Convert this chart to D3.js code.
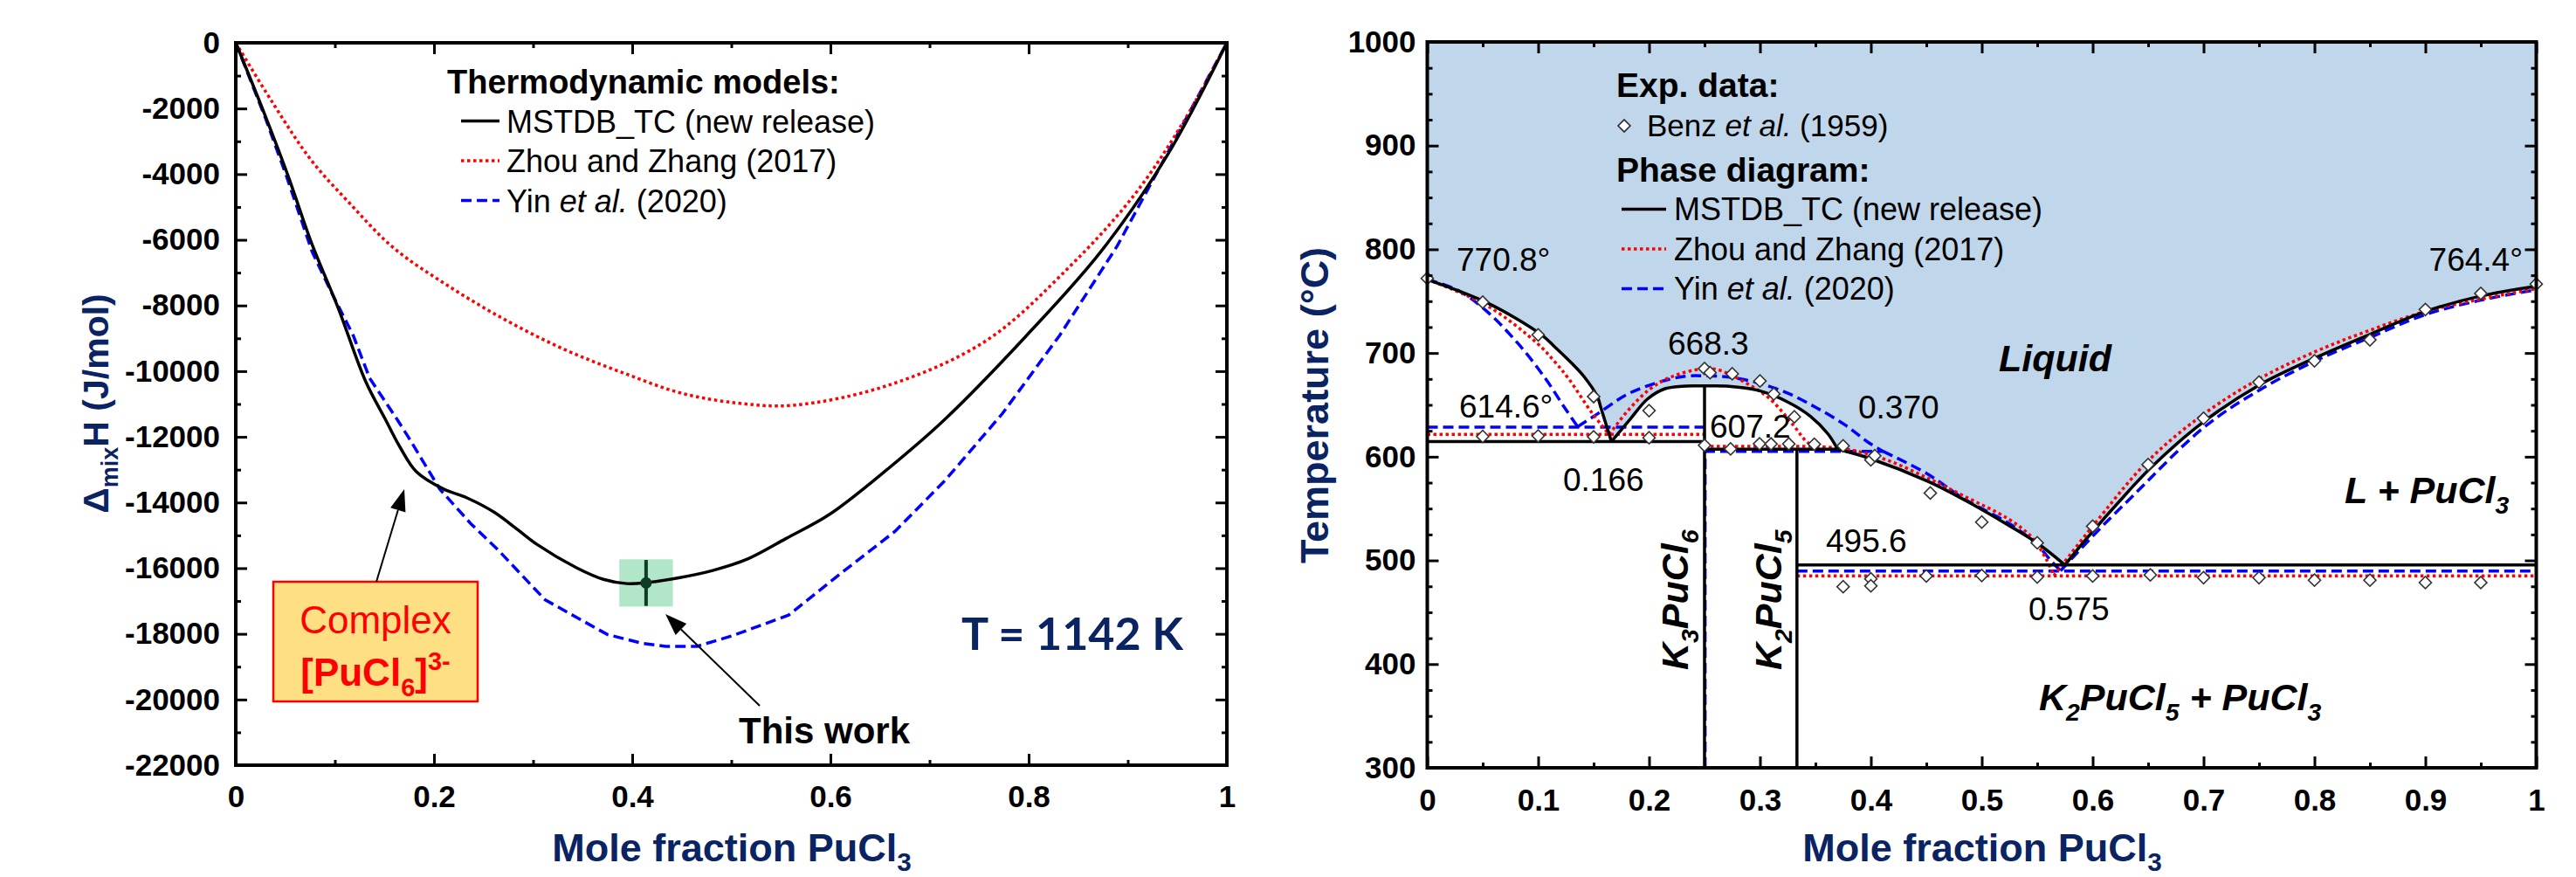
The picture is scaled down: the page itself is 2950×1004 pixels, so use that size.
<!DOCTYPE html>
<html><head><meta charset="utf-8">
<script src="https://cdn.jsdelivr.net/npm/d3@7"></script>
<style>html,body{margin:0;padding:0;background:#fff;} svg{display:block;}</style>
</head><body>
<svg id="chart" width="2950" height="1004"></svg>
<script>
// ---------------- LEFT PANEL DATA (mixing enthalpy, T = 1142 K) ----------------
const leftXTicks = [0, 0.2, 0.4, 0.6, 0.8, 1];
const leftXTickLabels = ["0", "0.2", "0.4", "0.6", "0.8", "1"];
const leftXMinor = [0.1, 0.3, 0.5, 0.7, 0.9];
const leftYTicks = [0, -2000, -4000, -6000, -8000, -10000, -12000, -14000, -16000, -18000, -20000, -22000];
const leftYTickLabels = ["0", "-2000", "-4000", "-6000", "-8000", "-10000", "-12000", "-14000", "-16000", "-18000", "-20000", "-22000"];
const leftYMinor = [-1000, -3000, -5000, -7000, -9000, -11000, -13000, -15000, -17000, -19000, -21000];

const mstdbEnthalpy = [[0,0],[0.0288,-2150],[0.0524,-4020],[0.076,-6060],[0.1035,-8090],[0.131,-10310],[0.1508,-11460],[0.1664,-12350],[0.1822,-13060],[0.2097,-13590],[0.2333,-13860],[0.2609,-14300],[0.2845,-14830],[0.3041,-15280],[0.3434,-15980],[0.371,-16340],[0.3946,-16470],[0.4143,-16440],[0.4457,-16300],[0.4812,-16070],[0.5165,-15720],[0.555,-15100],[0.5992,-14360],[0.657,-13000],[0.7153,-11470],[0.798,-8910],[0.8728,-6360],[0.939,-3470],[1,0]];
const zhouEnthalpy = [[0,0],[0.0367,-1800],[0.076,-3570],[0.1153,-4900],[0.1586,-6230],[0.2137,-7390],[0.2727,-8450],[0.3317,-9340],[0.3907,-10050],[0.4497,-10670],[0.5087,-10980],[0.562,-11040],[0.6573,-10440],[0.7567,-9080],[0.8396,-6870],[0.9059,-4660],[0.9556,-2440],[1,0]];
const yinEnthalpy = [[0,0],[0.03,-2300],[0.051,-4050],[0.077,-6360],[0.0957,-7550],[0.1185,-8910],[0.135,-10210],[0.1626,-11460],[0.174,-12000],[0.2058,-13590],[0.2373,-14650],[0.2648,-15450],[0.312,-16960],[0.3434,-17490],[0.3749,-18020],[0.4103,-18290],[0.4339,-18380],[0.4654,-18380],[0.5008,-18060],[0.5578,-17430],[0.6075,-16230],[0.6655,-14870],[0.7153,-13340],[0.7733,-11300],[0.8313,-8910],[0.8893,-6190],[0.9474,-2950],[1,0]];
const thisWorkPoint = [0.414, -16450];
const thisWorkErrorY = [700];
const thisWorkBox = [0.027, 720];

// ---------------- RIGHT PANEL DATA (KCl-PuCl3 phase diagram) ----------------
const rightXTicks = [0, 0.1, 0.2, 0.3, 0.4, 0.5, 0.6, 0.7, 0.8, 0.9, 1];
const rightXTickLabels = ["0", "0.1", "0.2", "0.3", "0.4", "0.5", "0.6", "0.7", "0.8", "0.9", "1"];
const rightXMinor = [0.05, 0.15, 0.25, 0.35, 0.45, 0.55, 0.65, 0.75, 0.85, 0.95];
const rightYTicks = [300, 400, 500, 600, 700, 800, 900, 1000];
const rightYTickLabels = ["300", "400", "500", "600", "700", "800", "900", "1000"];
const rightYMinor = [325,350,375,425,450,475,525,550,575,625,650,675,725,750,775,825,850,875,925,950,975];

// MSTDB_TC liquidus segments
const mstdbKCl = [[0,770.8],[0.054,748.4],[0.103,717.5],[0.1146,706.3],[0.131,689.4],[0.1408,678],[0.1534,658],[0.1566,647],[0.166,614.6]];
const mstdbK3 = [[0.166,614.6],[0.1828,636],[0.1986,655.7],[0.2143,665.6],[0.2327,668.2],[0.25,668.3],[0.272,668],[0.2983,664],[0.3246,653],[0.3455,639],[0.3613,622],[0.37,607.2]];
const mstdbK2 = [[0.37,607.2],[0.4,598],[0.452,576],[0.485,558],[0.524,534],[0.55,516.7],[0.575,495.6]];
const mstdbPu = [[0.575,495.6],[0.5945,521],[0.6317,566],[0.653,590],[0.698,632],[0.75,669],[0.8,695],[0.85,718],[0.9,740],[0.95,755],[1,764.4]];
const mstdbInvariants = [[0,0.25,614.6],[0.25,0.37,607.2],[1/3,1,495.6]];
const mstdbCompounds = [[0.25,668.3],[1/3,607.2]];

// Zhou and Zhang (2017)
const zhouKCl = [[0,771],[0.054,745.6],[0.0995,709],[0.1146,692],[0.1276,675],[0.1487,642],[0.164,621.5]];
const zhouK3 = [[0.164,621.5],[0.183,647],[0.2012,665.6],[0.2195,676.8],[0.2458,684.4],[0.2616,684],[0.285,672.6],[0.309,655.7],[0.33,630.5],[0.343,613.6],[0.351,610]];
const zhouK2 = [[0.351,610],[0.38,607],[0.414,597],[0.45,580],[0.4846,561.7],[0.524,540],[0.545,522.4],[0.558,501.4],[0.565,485.2]];
const zhouPu = [[0.565,485.2],[0.6,533],[0.65,596],[0.7,641],[0.75,675],[0.8,701],[0.85,722],[0.9,740],[0.95,752],[1,762]];
const zhouInvariants = [[0,0.25,621.5],[0.25,0.351,610],[1/3,1,485.2]];

// Yin et al. (2020)
const yinKCl = [[0,771],[0.029,759.7],[0.0539,740],[0.082,709],[0.1065,675.4],[0.124,647],[0.1356,629]];
const yinK3 = [[0.1356,629],[0.154,641.7],[0.18,660],[0.2065,671.2],[0.2327,677.6],[0.25,678],[0.272,676.8],[0.2983,671.2],[0.3246,661.4],[0.3508,647.3],[0.377,630.5],[0.398,613.6],[0.411,605.2]];
const yinK2 = [[0.411,605.2],[0.45,584],[0.4846,559],[0.524,536],[0.548,517],[0.5634,498.5],[0.571,490]];
const yinPu = [[0.571,490],[0.6054,529.4],[0.637,563],[0.7,628],[0.75,664],[0.8,692],[0.85,715],[0.9,737],[0.95,751],[1,761]];
const yinInvariants = [[0,0.25,628.5],[0.25,0.411,605.2],[1/3,1,489.8]];
const yinCompounds = [[0.2505,605.2]];

// Benz et al. (1959) experimental points
const benzLiquidus = [[0,772],[0.05,749],[0.1,717.5],[0.15,658],[0.2,644.5],[0.25,685],[0.255,681],[0.275,680],[0.3,673],[0.3125,660.5],[0.331,638.5],[0.375,610.5],[0.4,597],[0.4035,601],[0.4536,565],[0.5,537],[0.55,517],[0.6,533],[0.65,592.5],[0.7,637],[0.75,672],[0.8,692.5],[0.85,712.7],[0.9,742],[0.95,757.5],[1,766.5]];
const benzSolidus = [[0.05,619.5],[0.1,620],[0.15,619.2],[0.2,618.3],[0.25,611],[0.2735,607.5],[0.2996,612.5],[0.31,612.3],[0.326,612.3],[0.349,612],[0.375,474.6],[0.4,482.2],[0.4,475.5],[0.45,485],[0.5,485.5],[0.55,484],[0.6,485],[0.652,486],[0.7,483.4],[0.75,483.4],[0.8,481],[0.85,481],[0.9,478.6],[0.95,478.6]];

// ---------------- DRAWING ----------------
const FONT = "'Liberation Sans', Arial, Helvetica, sans-serif";
const NAVY = "#0a2463";
const BLUE = "#0000ff", RED = "#ff0000";
const svg = d3.select("#chart").attr("font-family", FONT);
svg.append("rect").attr("width", 2950).attr("height", 1004).attr("fill", "#fff");

function rich(sel, parts, fs, subShift) {
  const sub = subShift === undefined ? 0.28 : subShift;
  let shift = 0;
  parts.forEach(p => {
    const t = p[0], kind = p[1], it = p[2];
    const ts = sel.append("tspan").text(t);
    const target = kind === "sub" ? sub * fs : kind === "sup" ? -0.42 * fs : 0;
    if (target - shift !== 0) ts.attr("dy", target - shift);
    shift = target;
    if (kind === "sub" || kind === "sup") ts.attr("font-size", 0.66 * fs);
    if (it) ts.attr("font-style", "italic");
  });
  return sel;
}

function drawAxes(g, x, y, o) {
  const yb = y.range()[0], yt = y.range()[1], xl = x.range()[0], xr = x.range()[1];
  const style = a => {
    a.select(".domain").remove();
    a.selectAll(".tick line").attr("stroke", "#000").attr("stroke-width", 3);
    a.selectAll("text").attr("font-size", o.fs).attr("font-weight", "bold").attr("fill", "#000").attr("font-family", FONT);
  };
  g.append("g").attr("transform", `translate(0,${yb})`)
    .call(d3.axisBottom(x).tickValues(o.xT).tickFormat((d, i) => o.xL[i]).tickSizeInner(-13).tickSizeOuter(0).tickPadding(o.px)).call(style);
  g.append("g").attr("transform", `translate(0,${yb})`)
    .call(d3.axisBottom(x).tickValues(o.xM).tickFormat("").tickSizeInner(-6).tickSizeOuter(0)).call(style);
  g.append("g").attr("transform", `translate(0,${yt})`)
    .call(d3.axisTop(x).tickValues(o.xT).tickFormat("").tickSizeInner(-13).tickSizeOuter(0)).call(style);
  g.append("g").attr("transform", `translate(0,${yt})`)
    .call(d3.axisTop(x).tickValues(o.xM).tickFormat("").tickSizeInner(-6).tickSizeOuter(0)).call(style);
  g.append("g").attr("transform", `translate(${xl},0)`)
    .call(d3.axisLeft(y).tickValues(o.yT).tickFormat((d, i) => o.yL[i]).tickSizeInner(-13).tickSizeOuter(0).tickPadding(o.py)).call(style);
  g.append("g").attr("transform", `translate(${xl},0)`)
    .call(d3.axisLeft(y).tickValues(o.yM).tickFormat("").tickSizeInner(-6).tickSizeOuter(0)).call(style);
  g.append("g").attr("transform", `translate(${xr},0)`)
    .call(d3.axisRight(y).tickValues(o.yT).tickFormat("").tickSizeInner(-13).tickSizeOuter(0)).call(style);
  g.append("g").attr("transform", `translate(${xr},0)`)
    .call(d3.axisRight(y).tickValues(o.yM).tickFormat("").tickSizeInner(-6).tickSizeOuter(0)).call(style);
  g.append("rect").attr("x", xl).attr("y", yt).attr("width", xr - xl).attr("height", yb - yt)
    .attr("fill", "none").attr("stroke", "#000").attr("stroke-width", 4);
}

function arrow(g, x1, y1, x2, y2) {
  const a = Math.atan2(y2 - y1, x2 - x1), L = 25, W = 9;
  const bx = x2 - L * Math.cos(a), by = y2 - L * Math.sin(a);
  g.append("line").attr("x1", x1).attr("y1", y1).attr("x2", bx).attr("y2", by).attr("stroke", "#000").attr("stroke-width", 2);
  g.append("path").attr("d", `M${x2},${y2}L${bx - W * Math.sin(a)},${by + W * Math.cos(a)}L${bx + W * Math.sin(a)},${by - W * Math.cos(a)}Z`).attr("fill", "#000");
}

const styles = {
  mstdb: s => s.attr("stroke", "#000").attr("stroke-width", 3.5).attr("fill", "none"),
  zhou: s => s.attr("stroke", RED).attr("stroke-width", 3.5).attr("stroke-dasharray", "3.5,3.5").attr("fill", "none"),
  yin: s => s.attr("stroke", BLUE).attr("stroke-width", 3.5).attr("stroke-dasharray", "12,6").attr("fill", "none")
};

// ===== LEFT PANEL =====
const xL = d3.scaleLinear().domain([0, 1]).range([270, 1405]);
const yL = d3.scaleLinear().domain([-22000, 0]).range([876, 49]);
const gL = svg.append("g");

gL.append("rect")
  .attr("x", xL(thisWorkPoint[0] - thisWorkBox[0])).attr("y", yL(thisWorkPoint[1] + thisWorkBox[1]))
  .attr("width", xL(thisWorkPoint[0] + thisWorkBox[0]) - xL(thisWorkPoint[0] - thisWorkBox[0]))
  .attr("height", yL(thisWorkPoint[1] - thisWorkBox[1]) - yL(thisWorkPoint[1] + thisWorkBox[1]))
  .attr("fill", "#b2e6c9");

const smoothL = d3.line().x(d => xL(d[0])).y(d => yL(d[1])).curve(d3.curveCatmullRom.alpha(0.5));
const linL = d3.line().x(d => xL(d[0])).y(d => yL(d[1]));
gL.append("path").attr("d", linL(yinEnthalpy)).call(styles.yin);
gL.append("path").attr("d", smoothL(zhouEnthalpy)).call(styles.zhou);
gL.append("path").attr("d", smoothL(mstdbEnthalpy)).call(styles.mstdb);

gL.append("line").attr("x1", xL(thisWorkPoint[0])).attr("x2", xL(thisWorkPoint[0]))
  .attr("y1", yL(thisWorkPoint[1] + thisWorkErrorY[0])).attr("y2", yL(thisWorkPoint[1] - thisWorkErrorY[0]))
  .attr("stroke", "#0f3d24").attr("stroke-width", 4);
gL.append("circle").attr("cx", xL(thisWorkPoint[0])).attr("cy", yL(thisWorkPoint[1])).attr("r", 6.5).attr("fill", "#0f3d24");

drawAxes(gL, xL, yL, { xT: leftXTicks, xL: leftXTickLabels, xM: leftXMinor, yT: leftYTicks, yL: leftYTickLabels, yM: leftYMinor, fs: 35, px: 23, py: 18 });

// legend left
gL.append("text").attr("x", 512).attr("y", 107).attr("font-size", 38).attr("font-weight", "bold").text("Thermodynamic models:");
const legL = [["mstdb", [["MSTDB_TC (new release)"]]], ["zhou", [["Zhou and Zhang (2017)"]]], ["yin", [["Yin "], ["et al.", null, true], [" (2020)"]]]];
legL.forEach((d, i) => {
  const cy = 138.5 + i * 45.5;
  gL.append("line").attr("x1", 528).attr("x2", 572).attr("y1", cy).attr("y2", cy).call(styles[d[0]]);
  rich(gL.append("text").attr("x", 580).attr("y", cy + 13).attr("font-size", 36), d[1], 36);
});

// annotations left
gL.append("rect").attr("x", 313).attr("y", 666).attr("width", 234).attr("height", 137).attr("fill", "#ffdf84").attr("stroke", RED).attr("stroke-width", 2.5);
gL.append("text").attr("x", 430).attr("y", 725).attr("text-anchor", "middle").attr("font-size", 44).attr("fill", RED).text("Complex");
rich(gL.append("text").attr("x", 430).attr("y", 785).attr("text-anchor", "middle").attr("font-size", 44).attr("font-weight", "bold").attr("fill", RED),
  [["[PuCl"], ["6", "sub"], ["]"], ["3-", "sup"]], 44);
arrow(gL, 431, 666, 463, 560);
arrow(gL, 870, 808, 762, 703);
gL.append("text").attr("x", 846).attr("y", 851).attr("font-size", 42).attr("font-weight", "bold").text("This work");
gL.append("text").attr("x", 1101).attr("y", 744).attr("font-size", 52).attr("font-weight", "bold").attr("font-family", "Lato, 'Open Sans', sans-serif").attr("fill", NAVY).text("T = 1142 K");

// axis titles left
rich(gL.append("text").attr("x", 838).attr("y", 986).attr("text-anchor", "middle").attr("font-size", 45).attr("font-weight", "bold").attr("fill", NAVY),
  [["Mole fraction PuCl"], ["3", "sub"]], 45, 0.24);
rich(gL.append("text").attr("transform", "translate(124,462) rotate(-90)").attr("text-anchor", "middle").attr("font-size", 41).attr("font-weight", "bold").attr("fill", NAVY),
  [["\u0394"], ["mix", "sub"], ["H (J/mol)"]], 41);

// ===== RIGHT PANEL =====
const xR = d3.scaleLinear().domain([0, 1]).range([1634.5, 2904.5]);
const yR = d3.scaleLinear().domain([300, 1000]).range([879, 48]);
const gR = svg.append("g");
const smoothR = d3.line().x(d => xR(d[0])).y(d => yR(d[1])).curve(d3.curveCatmullRom.alpha(0.5));

// liquid region fill above MSTDB liquidus
let fillD = `M${xR(0)},${yR(1000)}`;
[mstdbKCl, mstdbK3, mstdbK2, mstdbPu].forEach(s => { fillD += smoothR(s).replace(/^M/, "L"); });
fillD += `L${xR(1)},${yR(1000)}Z`;
gR.append("path").attr("d", fillD).attr("fill", "#c0d6ea");

function drawModel(inv, comps, segs, st) {
  inv.forEach(d => gR.append("line").attr("x1", xR(d[0])).attr("x2", xR(d[1])).attr("y1", yR(d[2])).attr("y2", yR(d[2])).call(st));
  (comps || []).forEach(d => gR.append("line").attr("x1", xR(d[0])).attr("x2", xR(d[0])).attr("y1", yR(300)).attr("y2", yR(d[1])).call(st));
  segs.forEach(s => gR.append("path").attr("d", smoothR(s)).call(st));
}
drawModel(yinInvariants, yinCompounds, [yinKCl, yinK3, yinK2, yinPu], styles.yin);
drawModel(zhouInvariants, null, [zhouKCl, zhouK3, zhouK2, zhouPu], styles.zhou);
drawModel(mstdbInvariants, mstdbCompounds, [mstdbKCl, mstdbK3, mstdbK2, mstdbPu], styles.mstdb);

const diamond = d3.symbol().type(d3.symbolSquare).size(98);
gR.selectAll("path.exp").data(benzLiquidus.concat(benzSolidus)).join("path").attr("class", "exp")
  .attr("d", diamond).attr("transform", d => `translate(${xR(d[0])},${yR(d[1])}) rotate(45)`)
  .attr("fill", "#fff").attr("stroke", "#333").attr("stroke-width", 1.6);

drawAxes(gR, xR, yR, { xT: rightXTicks, xL: rightXTickLabels, xM: rightXMinor, yT: rightYTicks, yL: rightYTickLabels, yM: rightYMinor, fs: 35, px: 24, py: 13 });

// legend right
gR.append("text").attr("x", 1851).attr("y", 111).attr("font-size", 39).attr("font-weight", "bold").text("Exp. data:");
gR.append("path").attr("d", diamond).attr("transform", "translate(1860,144) rotate(45)").attr("fill", "#fff").attr("stroke", "#333").attr("stroke-width", 1.6);
rich(gR.append("text").attr("x", 1886).attr("y", 156).attr("font-size", 35), [["Benz "], ["et al.", null, true], [" (1959)"]], 35);
gR.append("text").attr("x", 1851).attr("y", 208).attr("font-size", 39).attr("font-weight", "bold").text("Phase diagram:");
const legR = [["mstdb", [["MSTDB_TC (new release)"]]], ["zhou", [["Zhou and Zhang (2017)"]]], ["yin", [["Yin "], ["et al.", null, true], [" (2020)"]]]];
legR.forEach((d, i) => {
  const cy = 239.5 + i * 45.5;
  gR.append("line").attr("x1", 1857).attr("x2", 1908).attr("y1", cy).attr("y2", cy).call(styles[d[0]]);
  rich(gR.append("text").attr("x", 1917).attr("y", cy + 12.5).attr("font-size", 36), d[1], 36);
});

// annotations right
const nums = [["770.8°", 1668, 310, "start"], ["764.4°", 2889, 310, "end"], ["668.3", 1910, 406, "start"], ["614.6°", 1671, 478, "start"],
  ["0.370", 2128, 479, "start"], ["607.2", 1958, 501, "start"], ["0.166", 1790, 562, "start"], ["495.6", 2091, 632, "start"], ["0.575", 2323, 710, "start"]];
nums.forEach(d => gR.append("text").attr("x", d[1]).attr("y", d[2]).attr("text-anchor", d[3]).attr("font-size", 37).text(d[0]));
const phaseLbl = (x, y, parts, rot) => rich(gR.append("text").attr("transform", `translate(${x},${y})` + (rot ? " rotate(-90)" : ""))
  .attr("font-size", 43).attr("font-weight", "bold").attr("font-style", "italic"), parts, 43);
phaseLbl(2289, 425, [["Liquid"]]);
phaseLbl(2685, 576, [["L + PuCl"], ["3", "sub"]]);
phaseLbl(2335, 813, [["K"], ["2", "sub"], ["PuCl"], ["5", "sub"], [" + PuCl"], ["3", "sub"]]);
phaseLbl(1933, 767, [["K"], ["3", "sub"], ["PuCl"], ["6", "sub"]], true);
phaseLbl(2040, 767, [["K"], ["2", "sub"], ["PuCl"], ["5", "sub"]], true);

// axis titles right
rich(gR.append("text").attr("x", 2270).attr("y", 986).attr("text-anchor", "middle").attr("font-size", 45).attr("font-weight", "bold").attr("fill", NAVY),
  [["Mole fraction PuCl"], ["3", "sub"]], 45, 0.24);
gR.append("text").attr("transform", "translate(1521,464) rotate(-90)").attr("text-anchor", "middle").attr("font-size", 45).attr("font-weight", "bold").attr("fill", NAVY).text("Temperature (°C)");
</script>
</body></html>
